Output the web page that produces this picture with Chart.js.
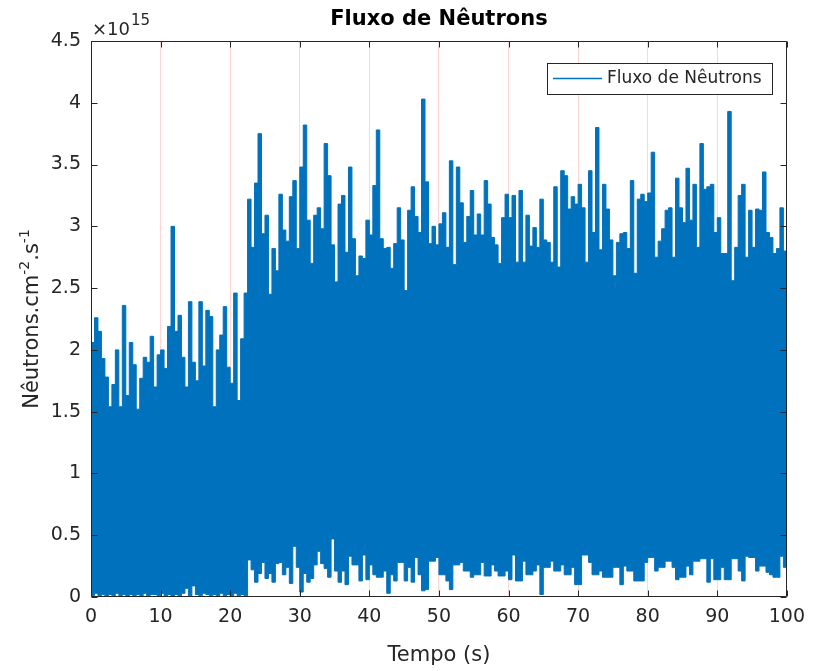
<!DOCTYPE html>
<html>
<head>
<meta charset="utf-8">
<script src="https://cdn.jsdelivr.net/npm/chart.js@4.4.1/dist/chart.umd.min.js"></script>
<style>
  html, body { margin: 0; padding: 0; background: #fff; }
  #chart { display: block; }
</style>
</head>
<body>
<canvas id="chart" width="814" height="671"></canvas>
<script>
// ----------------- DATA (units of 1e15 neutrons.cm-2.s-1) -----------------
const T_STEP = 0.5;          // seconds per sample bin
const T_END = 100;

// upper envelope of the signal, one value per 0.5 s bin (t = 0 ... 99.5)
const upperFlux = [
	2.06, 2.26, 2.15, 1.93, 1.78, 1.54, 1.72, 2.00, 1.54, 2.36,
	1.63, 2.06, 1.88, 1.52, 1.77, 1.94, 1.90, 2.11, 1.70, 1.96,
	2.00, 1.85, 2.19, 3.00, 2.15, 2.28, 1.94, 1.70, 2.39, 1.90,
	1.75, 2.39, 1.87, 2.32, 2.27, 1.54, 2.00, 2.12, 2.35, 1.86,
	1.73, 2.46, 1.59, 2.09, 2.46,
	3.22, 2.83, 3.35, 3.75, 2.94, 3.09, 2.45, 2.82, 2.64, 3.26,
	2.97, 2.88, 3.24, 3.37, 2.82, 3.48, 3.82, 3.05, 2.70, 3.09,
	3.15, 2.98, 3.67, 3.41, 2.85, 2.55, 3.18, 3.25, 2.79, 3.48,
	2.90, 2.60, 2.76, 2.74, 3.05, 2.93, 3.33, 3.78, 2.90, 2.82,
	2.83, 2.66, 2.86, 3.15, 2.89, 2.48, 3.13, 3.32, 3.08, 2.95,
	4.03, 3.36, 2.86, 3.00, 2.85, 3.02, 3.11, 2.83, 3.53, 2.69,
	3.48, 3.19, 2.87, 3.08, 3.29, 2.93, 3.10, 2.93, 3.37, 3.18,
	2.91, 2.85, 2.70, 3.07, 3.26, 3.07, 3.25, 2.71, 3.29, 2.71,
	3.09, 2.84, 2.99, 2.83, 3.22, 2.89, 2.87, 2.71, 3.32, 2.67,
	3.45, 3.41, 3.14, 3.24, 3.18, 3.34, 3.15, 2.71, 3.45, 2.95,
	3.80, 2.81, 3.34, 3.14, 2.89, 2.60, 2.87, 2.94, 2.95, 2.82,
	3.37, 2.62, 3.22, 3.26, 3.20, 3.27, 3.60, 2.75, 2.88, 2.98,
	3.13, 3.15, 2.75, 3.39, 3.15, 3.03, 3.47, 3.05, 3.34, 2.83,
	3.67, 3.30, 3.32, 3.34, 2.95, 3.07, 2.78, 2.78, 3.93, 2.56,
	2.83, 3.25, 3.34, 2.75, 3.13, 2.83, 3.14, 3.13, 3.44, 2.95,
	2.91, 2.78, 2.82, 3.15, 2.80
];

// lower envelope of the signal, same bins
const lowerFlux = [
	0.01, 0.03, 0.01, 0.02, 0.00, 0.02, 0.01, 0.03, 0.01, 0.02,
	0.00, 0.02, 0.01, 0.02, 0.01, 0.03, 0.01, 0.02, 0.02, 0.01,
	0.03, 0.01, 0.02, 0.00, 0.02, 0.01, 0.03, 0.07, 0.01, 0.09,
	0.02, 0.01, 0.03, 0.02, 0.01, 0.02, 0.00, 0.03, 0.01, 0.02,
	0.01, 0.03, 0.01, 0.02, 0.01,
	0.30, 0.22, 0.12, 0.19, 0.28, 0.15, 0.19, 0.12, 0.27, 0.28,
	0.18, 0.24, 0.11, 0.41, 0.24, 0.04, 0.19, 0.12, 0.15, 0.26,
	0.37, 0.27, 0.23, 0.16, 0.47, 0.21, 0.12, 0.21, 0.10, 0.33,
	0.26, 0.26, 0.13, 0.34, 0.14, 0.26, 0.18, 0.16, 0.16, 0.21,
	0.03, 0.18, 0.13, 0.28, 0.28, 0.13, 0.24, 0.12, 0.32, 0.18,
	0.05, 0.06, 0.29, 0.29, 0.32, 0.18, 0.18, 0.13, 0.06, 0.26,
	0.26, 0.28, 0.21, 0.21, 0.16, 0.18, 0.18, 0.28, 0.17, 0.17,
	0.26, 0.21, 0.17, 0.17, 0.21, 0.14, 0.34, 0.13, 0.13, 0.29,
	0.18, 0.18, 0.21, 0.26, 0.02, 0.24, 0.24, 0.29, 0.21, 0.21,
	0.26, 0.18, 0.18, 0.24, 0.10, 0.10, 0.34, 0.34, 0.28, 0.18,
	0.18, 0.21, 0.16, 0.16, 0.16, 0.24, 0.24, 0.10, 0.25, 0.21,
	0.21, 0.13, 0.13, 0.13, 0.28, 0.32, 0.32, 0.21, 0.24, 0.24,
	0.29, 0.29, 0.24, 0.14, 0.16, 0.16, 0.25, 0.18, 0.29, 0.29,
	0.31, 0.31, 0.12, 0.31, 0.14, 0.14, 0.24, 0.14, 0.14, 0.31,
	0.31, 0.21, 0.13, 0.33, 0.32, 0.32, 0.21, 0.25, 0.25, 0.20,
	0.18, 0.16, 0.16, 0.33, 0.24
];

const xTicks = [0, 10, 20, 30, 40, 50, 60, 70, 80, 90, 100];
const yTicks = [0, 0.5, 1, 1.5, 2, 2.5, 3, 3.5, 4, 4.5];
const xTickLabels = ['0', '10', '20', '30', '40', '50', '60', '70', '80', '90', '100'];
const yTickLabels = ['0', '0.5', '1', '1.5', '2', '2.5', '3', '3.5', '4', '4.5'];

const TITLE = 'Fluxo de Nêutrons';
const SERIES_LABEL = 'Fluxo de Nêutrons';

// ----------------- STYLE -----------------
const BLUE = '#0072BD';
const AXIS = '#262626';
const PINK = 'rgb(255,214,214)';
const FONT = "'DejaVu Sans', 'Liberation Sans', sans-serif";

Chart.defaults.font.family = FONT;
Chart.defaults.color = AXIS;

// step series: each value holds for its bin, last bin closed at T_END
function toSteps(values) {
	const pts = values.map((v, i) => ({ x: i * T_STEP, y: v }));
	pts.push({ x: T_END, y: values[values.length - 1] });
	return pts;
}

// ----------------- FRAME, LABELS, LEGEND -----------------
const decorations = {
	id: 'decorations',
	afterDatasetsDraw(chart) {
		const { ctx, chartArea: a, scales: { x, y } } = chart;
		const L = Math.round(a.left) + 0.5, R = Math.round(a.right) - 0.5;
		const T = Math.round(a.top) + 0.5, B = Math.round(a.bottom) - 0.5;
		ctx.save();
		ctx.strokeStyle = AXIS;
		ctx.lineWidth = 1;
		ctx.beginPath();
		ctx.rect(L, T, R - L, B - T);
		// inward ticks
		xTicks.forEach(v => {
			const px = Math.round(x.getPixelForValue(v)) + 0.5;
			ctx.moveTo(px, B); ctx.lineTo(px, B - 6);
			ctx.moveTo(px, T); ctx.lineTo(px, T + 6);
		});
		yTicks.forEach(v => {
			const py = Math.round(y.getPixelForValue(v)) + 0.5;
			ctx.moveTo(L, py); ctx.lineTo(L + 6, py);
			ctx.moveTo(R, py); ctx.lineTo(R - 6, py);
		});
		ctx.stroke();
		ctx.restore();
	},
	afterDraw(chart) {
		const { ctx, chartArea: a } = chart;
		ctx.save();

		// title, centred over the axes box
		ctx.fillStyle = '#000';
		ctx.font = `bold 21px ${FONT}`;
		ctx.textAlign = 'center';
		ctx.textBaseline = 'middle';
		ctx.fillText(TITLE, (a.left + a.right) / 2, 20);

		ctx.fillStyle = AXIS;
		ctx.textBaseline = 'alphabetic';
		ctx.textAlign = 'left';

		// exponent label  x10^15
		ctx.font = `18px ${FONT}`;
		ctx.fillText('×10', a.left + 1, 35);
		const w10 = ctx.measureText('×10').width;
		ctx.font = `15px ${FONT}`;
		ctx.fillText('15', a.left + 2 + w10, 25);

		// y axis label with superscripts
		const parts = [
			{ t: 'Nêutrons.cm', s: 21, dy: 0 },
			{ t: '-2', s: 14, dy: -9 },
			{ t: '.s', s: 21, dy: 0 },
			{ t: '-1', s: 14, dy: -9 }
		];
		let total = 0;
		parts.forEach(p => { ctx.font = `${p.s}px ${FONT}`; p.w = ctx.measureText(p.t).width; total += p.w; });
		ctx.translate(38, (a.top + a.bottom) / 2);
		ctx.rotate(-Math.PI / 2);
		let cx = -total / 2;
		parts.forEach(p => {
			ctx.font = `${p.s}px ${FONT}`;
			ctx.fillText(p.t, cx, p.dy);
			cx += p.w;
		});
		ctx.setTransform(1, 0, 0, 1, 0, 0);

		// legend box
		ctx.fillStyle = '#fff';
		ctx.fillRect(547.5, 63.5, 225, 31);
		ctx.strokeStyle = AXIS;
		ctx.lineWidth = 1;
		ctx.strokeRect(547.5, 63.5, 225, 31);
		ctx.strokeStyle = BLUE;
		ctx.lineWidth = 1.5;
		ctx.beginPath();
		ctx.moveTo(553, 78.5); ctx.lineTo(602, 78.5);
		ctx.stroke();
		ctx.fillStyle = AXIS;
		ctx.font = `17px ${FONT}`;
		ctx.textBaseline = 'middle';
		ctx.fillText(chart.data.datasets[0].label, 607, 79);
		ctx.restore();
	}
};

// ----------------- CHART -----------------
new Chart(document.getElementById('chart').getContext('2d'), {
	type: 'line',
	data: {
		datasets: [
			{
				label: SERIES_LABEL,
				data: toSteps(upperFlux),
				borderColor: BLUE,
				backgroundColor: BLUE,
				borderWidth: 1,
				pointRadius: 0,
				stepped: true,
				fill: '+1'
			},
			{
				label: 'lower',
				data: toSteps(lowerFlux),
				borderColor: BLUE,
				borderWidth: 1,
				pointRadius: 0,
				stepped: true,
				fill: false
			}
		]
	},
	options: {
		responsive: false,
		animation: false,
		devicePixelRatio: 1,
		layout: { padding: { left: 0, right: 19, top: 41, bottom: 0 } },
		plugins: {
			legend: { display: false },
			tooltip: { enabled: false },
			title: { display: false }
		},
		scales: {
			x: {
				type: 'linear',
				min: 0, max: 100,
				afterBuildTicks: s => { s.ticks = xTicks.map(v => ({ value: v })); },
				afterFit: s => { s.height = 74; },
				ticks: {
					font: { size: 19 },
					color: AXIS,
					padding: 9,
					maxRotation: 0,
					callback: v => xTickLabels[xTicks.indexOf(v)]
				},
				grid: {
					drawTicks: false,
					lineWidth: 1,
					color: c => (c.tick && (c.tick.value === 0 || c.tick.value === 100)) ? 'rgba(0,0,0,0)' : PINK
				},
				border: { display: false },
				title: {
					display: true,
					text: 'Tempo (s)',
					color: AXIS,
					font: { size: 21 },
					padding: { top: 0, bottom: 3 }
				}
			},
			y: {
				type: 'linear',
				min: 0, max: 4.5,
				afterBuildTicks: s => { s.ticks = yTicks.map(v => ({ value: v })); },
				afterFit: s => { s.width = 91; },
				ticks: {
					font: { size: 19 },
					color: AXIS,
					padding: 10,
					callback: v => yTickLabels[yTicks.indexOf(v)]
				},
				grid: { display: false, drawTicks: false },
				border: { display: false }
			}
		}
	},
	plugins: [decorations]
});
</script>
</body>
</html>
